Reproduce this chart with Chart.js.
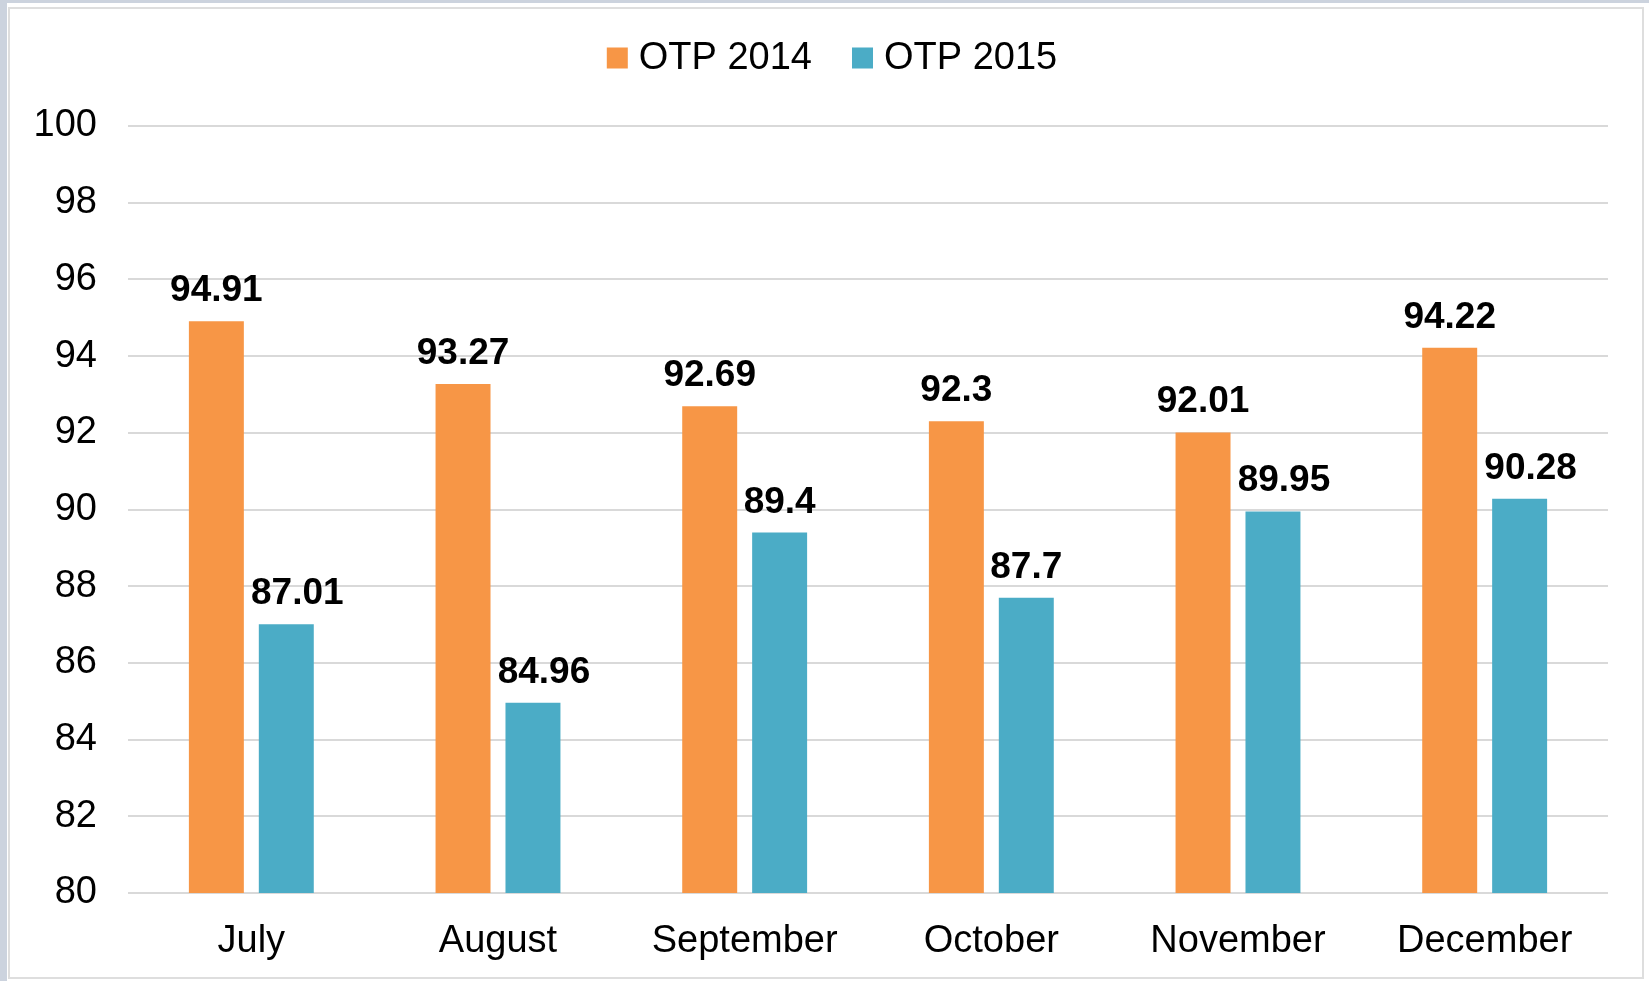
<!DOCTYPE html>
<html>
<head>
<meta charset="utf-8">
<script src="https://cdn.jsdelivr.net/npm/chart.js@4"></script>
<style>
  html, body { margin: 0; padding: 0; background: #ccd3de; overflow: hidden; }
  #panel { position: absolute; left: 7px; top: 3px; width: 1642px; height: 978px; background: #fff; }
  #frame { position: absolute; left: 8px; top: 7px; width: 1632px; height: 968px; border: 2px solid #dedede; }
  #wrap { position: absolute; left: 0; top: 0; width: 1649px; height: 981px; }
</style>
</head>
<body>
<div id="panel"></div>
<div id="frame"></div>
<div id="wrap"><canvas id="chart"></canvas></div>
<script>
// 資料
const months = ['July', 'August', 'September', 'October', 'November', 'December'];
const otp2014 = [94.91, 93.27, 92.69, 92.3, 92.01, 94.22];
const otp2015 = [87.01, 84.96, 89.4, 87.7, 89.95, 90.28];
const seriesNames = ['OTP 2014', 'OTP 2015'];
const seriesColors = ['#f79646', '#4bacc6'];

const FONT = '"Liberation Sans", Arial, sans-serif';

// 在柱子上方畫數值（第二組較長的標籤稍微向右偏）
const barValuePlugin = {
    id: 'barValue',
    afterDatasetsDraw: (chart) => {
        const { ctx } = chart;
        ctx.save();
        ctx.font = 'bold 37px ' + FONT;
        ctx.fillStyle = '#000';
        ctx.textAlign = 'center';
        ctx.textBaseline = 'alphabetic';
        chart.data.datasets.forEach((ds, i) => {
            const meta = chart.getDatasetMeta(i);
            meta.data.forEach((bar, j) => {
                const txt = String(ds.data[j]);
                const dx = (i === 1 && txt.length > 4) ? 11 : 0;
                ctx.fillText(txt, bar.x + dx, bar.y - 20);
            });
        });
        ctx.restore();
    }
};

// 自訂圖例：方塊 + 文字，置中於上方
const topLegendPlugin = {
    id: 'topLegend',
    afterDraw: (chart) => {
        const { ctx } = chart;
        const box = 21, gap = 11, spacing = 40, cy = 58, cx = 832;
        ctx.save();
        ctx.font = '38px ' + FONT;
        const items = chart.data.datasets.map(ds => ({
            text: ds.label, color: ds.backgroundColor, w: ctx.measureText(ds.label).width
        }));
        const total = items.reduce((s, it) => s + box + gap + it.w, 0) + spacing * (items.length - 1);
        let x = cx - total / 2;
        ctx.textBaseline = 'middle';
        ctx.textAlign = 'left';
        items.forEach(it => {
            ctx.fillStyle = it.color;
            ctx.fillRect(x, cy - box / 2, box, box);
            ctx.fillStyle = '#000';
            ctx.fillText(it.text, x + box + gap, cy + 1);
            x += box + gap + it.w + spacing;
        });
        ctx.restore();
    }
};

new Chart(document.getElementById('chart').getContext('2d'), {
    type: 'bar',
    data: {
        labels: months,
        datasets: [
            { label: seriesNames[0], data: otp2014, backgroundColor: seriesColors[0] },
            { label: seriesNames[1], data: otp2015, backgroundColor: seriesColors[1] }
        ]
    },
    options: {
        responsive: true,
        maintainAspectRatio: false,
        animation: false,
        categoryPercentage: 0.567,
        barPercentage: 0.786,
        layout: { padding: { top: 126, right: 41, bottom: 0, left: 0 } },
        plugins: {
            legend: { display: false },
            tooltip: { enabled: false }
        },
        scales: {
            x: {
                grid: { display: false },
                border: { display: false },
                ticks: {
                    color: '#000',
                    padding: 18,
                    font: { family: FONT, size: 38 }
                },
                afterFit: (scale) => { scale.height = 88; }
            },
            y: {
                min: 80,
                max: 100,
                grid: { color: '#d9d9d9', lineWidth: 2, drawTicks: false },
                border: { display: false },
                ticks: {
                    stepSize: 2,
                    color: '#000',
                    padding: 31,
                    font: { family: FONT, size: 38 }
                },
                afterFit: (scale) => { scale.width = 128; }
            }
        }
    },
    plugins: [barValuePlugin, topLegendPlugin]
});
</script>
</body>
</html>
